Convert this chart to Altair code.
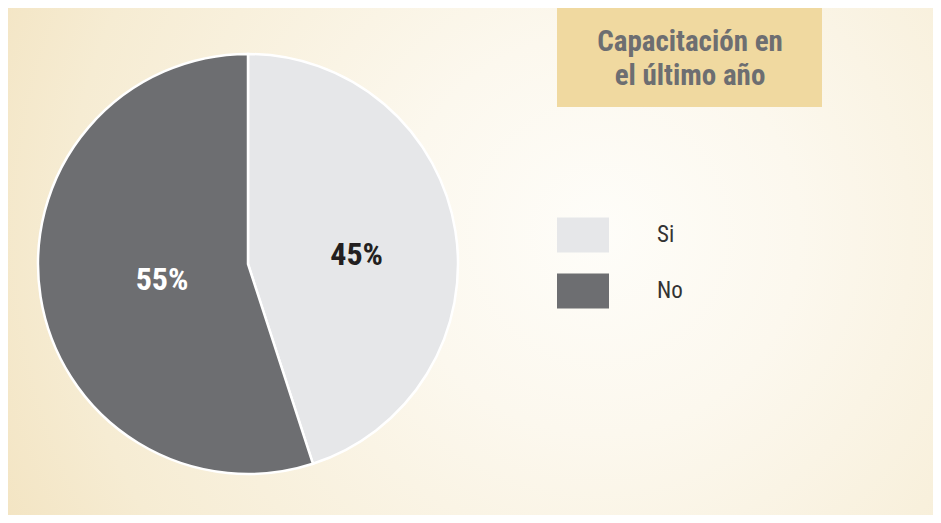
import altair as alt
import pandas as pd

categories = ["Si", "No"]
values = [45, 55]
labels = ["45%", "55%"]
slice_order = [1, 2]
slice_colors = ["#e6e7e9", "#6d6e71"]
title_lines = ["Capacitación en", "el último año"]

df = pd.DataFrame({"cat": categories, "value": values, "label": labels, "ord": slice_order})
one = pd.DataFrame({"a": [0]})

FONT = "Liberation Sans Narrow, Roboto Condensed, DejaVu Sans Condensed, Arial Narrow, sans-serif"
W, H = 925, 507
CX, CY = 240, 256

bg = alt.Chart(one).mark_rect(
    color=alt.Gradient(
        gradient="radial",
        stops=[
            alt.GradientStop(color="#fefdf9", offset=0),
            alt.GradientStop(color="#fcf8ee", offset=0.3),
            alt.GradientStop(color="#f6ecd3", offset=0.8),
            alt.GradientStop(color="#f3e4c2", offset=1),
        ],
        x1=0.64, y1=0.47, r1=0, x2=0.64, y2=0.47, r2=0.72,
    )
).encode(x=alt.value(0), x2=alt.value(W), y=alt.value(0), y2=alt.value(H))

box = alt.Chart(one).mark_rect(color="#f0d9a0").encode(
    x=alt.value(549), x2=alt.value(814), y=alt.value(0), y2=alt.value(99)
)

title = alt.Chart(one).mark_text(
    font=FONT, fontSize=29, fontWeight="bold", color="#6d6e71",
    align="center", baseline="middle", lineHeight=34,
).encode(x=alt.value(682), y=alt.value(34), text=alt.value(title_lines))

theta = alt.Theta("value:Q", stack=True)
order = alt.Order("ord:Q")

pie = alt.Chart(df).mark_arc(outerRadius=210, stroke="white", strokeWidth=2.5).encode(
    theta=theta,
    order=order,
    color=alt.Color(
        "cat:N",
        scale=alt.Scale(domain=categories, range=slice_colors),
        legend=alt.Legend(
            title=None, orient="none", legendX=549, legendY=201,
            symbolType="M-1,-0.67H1V0.67H-1Z", symbolSize=2704,
            symbolStrokeWidth=0, symbolOpacity=1,
            labelFont=FONT, labelFontSize=23, labelColor="#333333",
            labelOffset=48, rowPadding=12, padding=0,
        ),
    ),
    x=alt.value(CX), y=alt.value(CY),
)

lbl_si = alt.Chart(df).mark_text(
    radius=110, dy=8, font=FONT, fontSize=32, fontWeight="bold", color="#231f20"
).encode(
    theta=theta, order=order, detail="cat:N",
    text=alt.condition("datum.cat == 'Si'", "label:N", alt.value("")),
    x=alt.value(CX), y=alt.value(CY),
)

lbl_no = alt.Chart(df).mark_text(
    radius=87, dy=2, font=FONT, fontSize=32, fontWeight="bold", color="#ffffff"
).encode(
    theta=theta, order=order, detail="cat:N",
    text=alt.condition("datum.cat == 'No'", "label:N", alt.value("")),
    x=alt.value(CX), y=alt.value(CY),
)

chart = alt.layer(bg, box, title, pie, lbl_si, lbl_no).properties(
    width=W, height=H, padding=0, autosize="none", background="#f6ecd3"
).configure_view(strokeWidth=0)

chart.save("out.html", embed_options={"renderer": "svg", "actions": False})
